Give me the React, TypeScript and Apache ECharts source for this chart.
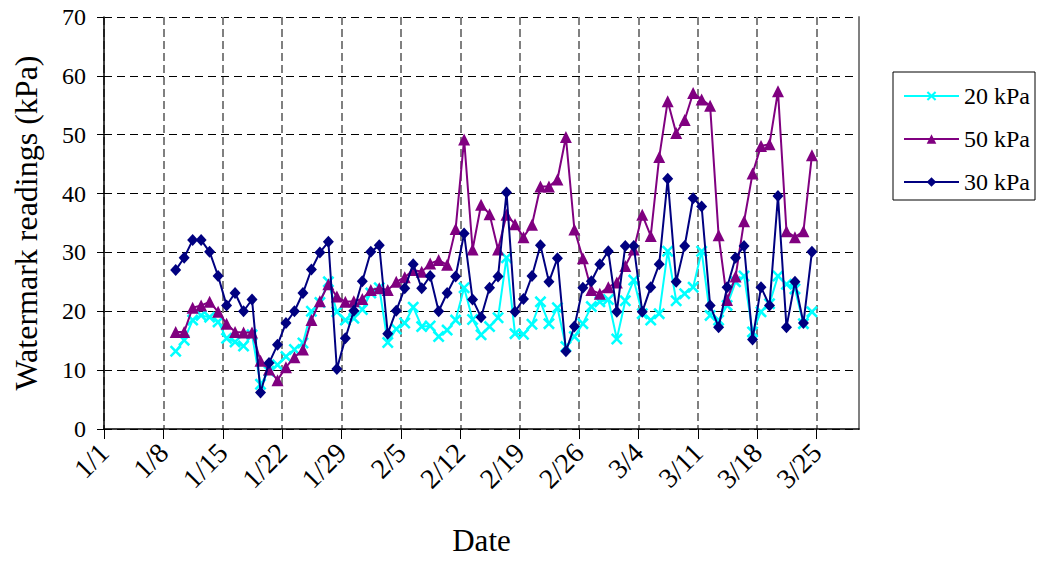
import React, { useEffect, useRef } from "react";
import * as echarts from "echarts";

// Reading dates (leap year: 2/29 exists)
const readingDates = [
  "1/9", "1/10", "1/11", "1/12", "1/13", "1/14", "1/15", "1/16", "1/17", "1/18",
  "1/19", "1/20", "1/21", "1/22", "1/23", "1/24", "1/25", "1/26", "1/27", "1/28",
  "1/29", "1/30", "1/31",
  "2/1", "2/2", "2/3", "2/4", "2/5", "2/6", "2/7", "2/8", "2/9", "2/10",
  "2/11", "2/12", "2/13", "2/14", "2/15", "2/16", "2/17", "2/18", "2/19", "2/20",
  "2/21", "2/22", "2/23", "2/24", "2/25", "2/26", "2/27", "2/28", "2/29",
  "3/1", "3/2", "3/3", "3/4", "3/5", "3/6", "3/7", "3/8", "3/9", "3/10",
  "3/11", "3/12", "3/13", "3/14", "3/15", "3/16", "3/17", "3/18", "3/19", "3/20",
  "3/21", "3/22", "3/23", "3/24",
];

const kpa20 = [
  13.2, 15.1, 18.5, 19.3, 19.0, 18.2, 15.4, 14.8, 14.1, 16.0,
  7.6, 9.8, 10.9, 12.3, 13.5, 14.6, 20.0, 21.5, 25.0, 19.9,
  18.5, 18.8, 20.3, 23.1, 24.0, 14.7, 17.0, 18.0, 20.7, 17.4,
  17.5, 15.7, 16.8, 18.5, 24.0, 18.6, 16.0, 17.4, 18.9, 29.1,
  16.2, 16.1, 17.8, 21.6, 17.9, 20.6, 14.0, 15.7, 17.9, 20.8,
  21.6, 22.0, 15.3, 21.8, 25.3, 19.6, 18.5, 19.6, 30.2, 21.8,
  23.0, 24.1, 30.2, 19.3, 18.5, 21.0, 25.0, 26.0, 16.5, 19.9,
  21.3, 26.0, 24.6, 23.8, 17.9, 19.9,
];

const kpa50 = [
  16.5, 16.5, 20.6, 21.0, 21.6, 19.9, 17.9, 16.5, 16.4, 16.4,
  11.6, 10.1, 8.3, 10.5, 12.2, 13.5, 18.5, 21.7, 24.6, 22.5,
  21.6, 21.7, 22.1, 23.6, 23.9, 23.6, 25.0, 25.8, 27.0, 26.7,
  28.1, 28.7, 27.9, 34.0, 49.2, 30.5, 38.1, 36.5, 30.5, 36.4,
  34.8, 32.6, 34.7, 41.2, 41.2, 42.4, 49.6, 33.9, 29.0, 23.6,
  23.0, 24.1, 24.9, 27.7, 30.5, 36.4, 32.8, 46.2, 55.7, 50.3,
  52.5, 57.1, 56.0, 54.9, 32.9, 21.9, 25.9, 35.3, 43.4, 48.1,
  48.4, 57.4, 33.6, 32.6, 33.6, 46.5,
];

const kpa30 = [
  27.0, 29.1, 32.1, 32.1, 30.1, 26.0, 21.0, 23.1, 20.0, 22.0,
  6.2, 11.2, 14.3, 18.0, 20.0, 23.1, 27.1, 30.0, 31.8, 10.2,
  15.4, 20.1, 25.1, 30.1, 31.2, 16.2, 20.1, 23.9, 28.0, 23.9,
  26.0, 20.0, 23.1, 25.9, 33.2, 22.0, 19.0, 24.0, 25.9, 40.2,
  19.9, 22.1, 26.0, 31.2, 25.0, 29.0, 13.2, 17.4, 24.0, 25.1,
  28.0, 30.2, 19.9, 31.1, 31.1, 19.9, 24.1, 28.0, 42.5, 25.0,
  31.1, 39.2, 37.8, 21.0, 17.3, 24.1, 29.1, 31.1, 15.2, 24.1,
  21.0, 39.6, 17.3, 25.0, 18.0, 30.1,
];

const tickLabels = ["1/1", "1/8", "1/15", "1/22", "1/29", "2/5", "2/12", "2/19", "2/26", "3/4", "3/11", "3/18", "3/25"];
const seriesNames = ["20 kPa", "50 kPa", "30 kPa"];
const readingTimeOfDay = 0.45; // readings taken late morning

const monthStart: Record<number, number> = { 1: 0, 2: 31, 3: 60 };
function dayIndex(md: string): number {
  const [m, d] = md.split("/").map(Number);
  return monthStart[m] + d - 1;
}

const FONT = "'Liberation Serif', 'Times New Roman', serif";
const X_SYMBOL =
  "path://M0,1.5L1.5,0L5,3.5L8.5,0L10,1.5L6.5,5L10,8.5L8.5,10L5,6.5L1.5,10L0,8.5L3.5,5Z";

export default function App() {
  const ref = useRef<HTMLDivElement>(null);

  useEffect(() => {
    if (!ref.current) return;
    const chart = echarts.init(ref.current, undefined, { renderer: "svg" });
    const toPoints = (vals: number[]) =>
      readingDates.map((d, i) => [dayIndex(d) + readingTimeOfDay, vals[i]]);

    const option: echarts.EChartsOption = {
      animation: false,
      backgroundColor: "#ffffff",
      grid: { left: 104, right: 180, top: 17, bottom: 128, containLabel: false },
      legend: {
        orient: "vertical",
        left: 893,
        top: 72,
        data: seriesNames,
        itemWidth: 55,
        itemHeight: 12,
        itemGap: 19,
        itemTextGap: 6,
        padding: [12, 5, 6, 10],
        borderColor: "#000000",
        borderWidth: 1,
        backgroundColor: "#ffffff",
        textStyle: { fontFamily: FONT, fontSize: 24, color: "#000000", lineHeight: 23 },
      },
      xAxis: {
        type: "value",
        min: 0,
        max: 89,
        interval: 7,
        name: "Date",
        nameLocation: "middle",
        nameGap: 96,
        nameTextStyle: { fontFamily: FONT, fontSize: 31, color: "#000000" },
        axisLine: { show: true, onZero: false, lineStyle: { color: "#000000", width: 1.5 } },
        axisTick: { show: true, length: 10, lineStyle: { color: "#000000", width: 1 } },
        axisLabel: {
          rotate: 45,
          margin: 19,
          showMaxLabel: false,
          fontFamily: FONT,
          fontSize: 28,
          color: "#000000",
          formatter: (v: number) => (v % 7 === 0 ? tickLabels[v / 7] ?? "" : ""),
        },
        splitLine: {
          show: true,
          lineStyle: { color: "#808080", width: 2, type: [8, 4] },
        },
      },
      yAxis: [
        {
          type: "value",
          min: 0,
          max: 70,
          interval: 10,
          name: "Watermark readings (kPa)",
          nameLocation: "middle",
          nameGap: 62,
          nameTextStyle: { fontFamily: FONT, fontSize: 32, color: "#000000" },
          axisLine: { show: true, lineStyle: { color: "#000000", width: 1.5 } },
          axisTick: { show: true, length: 7, lineStyle: { color: "#000000", width: 1 } },
          axisLabel: { margin: 18, fontFamily: FONT, fontSize: 24, color: "#000000" },
          splitLine: { show: true, lineStyle: { color: "#000000", width: 1, type: [8, 5] } },
        },
        {
          type: "value",
          position: "right",
          min: 0,
          max: 70,
          interval: 10,
          axisLine: { show: true, lineStyle: { color: "#808080", width: 2 } },
          axisTick: { show: false },
          axisLabel: { show: false },
          splitLine: { show: false },
        },
      ],
      series: [
        {
          name: seriesNames[0],
          type: "line",
          data: toPoints(kpa20),
          symbol: X_SYMBOL,
          symbolSize: 12,
          itemStyle: { color: "#00FFFF" },
          lineStyle: { color: "#00FFFF", width: 2 },
          z: 2,
        },
        {
          name: seriesNames[1],
          type: "line",
          data: toPoints(kpa50),
          symbol: "triangle",
          symbolSize: 12,
          itemStyle: { color: "#800080" },
          lineStyle: { color: "#800080", width: 2 },
          z: 3,
        },
        {
          name: seriesNames[2],
          type: "line",
          data: toPoints(kpa30),
          symbol: "diamond",
          symbolSize: [11, 12],
          itemStyle: { color: "#000080" },
          lineStyle: { color: "#000080", width: 2 },
          z: 4,
        },
      ],
    };
    chart.setOption(option);
    return () => chart.dispose();
  }, []);

  return (
    <div
      ref={ref}
      style={{ position: "fixed", left: 0, top: 0, width: 1039, height: 561, background: "#ffffff" }}
    />
  );
}
